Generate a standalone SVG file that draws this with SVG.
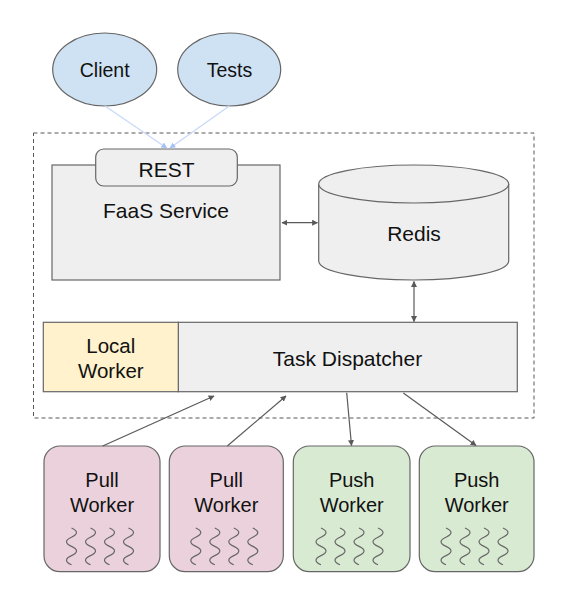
<svg xmlns="http://www.w3.org/2000/svg" width="566" height="592" viewBox="0 0 566 592">
<defs>
<style>
text{font-family:"Liberation Sans",Arial,sans-serif;fill:#111;text-anchor:middle}
.box{stroke:#666;stroke-width:1.2}
.gray{fill:#efefef}
.conn{stroke:#595959;stroke-width:1.2;fill:none}
.blue{stroke:#c9daf8;stroke-width:1.4;fill:none}
.sq{stroke:#666;stroke-width:1.2;fill:none}
.pull{fill:#ead1dc}
.push{fill:#d9ead3}
</style>
<marker id="ah" viewBox="0 0 10 10" refX="9" refY="5" markerWidth="6" markerHeight="6" orient="auto-start-reverse" markerUnits="userSpaceOnUse"><path d="M0,0 L10,5 L0,10 z" fill="#595959"/></marker>
<marker id="ahb" viewBox="0 0 10 10" refX="9" refY="5" markerWidth="6" markerHeight="6" orient="auto" markerUnits="userSpaceOnUse"><path d="M0,0 L10,5 L0,10 z" fill="#a4c2f4"/></marker>
<path id="sq" d="M-2,0 q10,4.6 0,9.2 t0,9.2 t0,9.2 t0,9.2"/>
</defs>
<rect x="0" y="0" width="566" height="592" fill="#fff"/>
<rect id="boundary" x="33.5" y="133" width="500.5" height="285" fill="none" stroke="#595959" stroke-width="1" stroke-dasharray="4,3"/>
<g id="client"><ellipse cx="104.7" cy="69.5" rx="52" ry="36.5" fill="#cfe2f3" class="box"/><text x="104.7" y="77.3" font-size="19.5">Client</text></g>
<g id="tests"><ellipse cx="229.2" cy="69.5" rx="51.5" ry="36.5" fill="#cfe2f3" class="box"/><text x="229.5" y="77.3" font-size="19.5">Tests</text></g>
<g id="faas"><rect x="52" y="165" width="228" height="115" class="box gray"/><text x="166" y="217.7" font-size="21">FaaS Service</text></g>
<g id="rest"><rect x="95.7" y="149" width="141.6" height="37" rx="8" class="box gray"/><text x="166.5" y="176.7" font-size="21">REST</text></g>
<g id="redis"><path d="M318.7,184 L318.7,261 A95,19 0 0 0 508.7,261 L508.7,184" class="box gray"/><ellipse cx="413.7" cy="184" rx="95" ry="19" class="box gray"/><text x="414" y="240.7" font-size="21">Redis</text></g>
<g id="dispatcher"><rect x="178.3" y="322.3" width="339" height="69.4" class="box gray"/><text x="347.5" y="366" font-size="21">Task Dispatcher</text></g>
<g id="local"><rect x="43.3" y="322.3" width="135" height="69.4" fill="#fff2cc" class="box"/><text x="110.8" y="352.7" font-size="20.5">Local</text><text x="110.8" y="378.3" font-size="20.5">Worker</text></g>
<g id="pull1"><rect x="44" y="446" width="116" height="125.7" rx="16" class="box pull"/><text x="102" y="486.7" font-size="20">Pull</text><text x="102" y="511.7" font-size="20">Worker</text>
<use href="#sq" x="73.5" y="528" class="sq"/><use href="#sq" x="92.5" y="528" class="sq"/><use href="#sq" x="111.5" y="528" class="sq"/><use href="#sq" x="130.5" y="528" class="sq"/></g>
<g id="pull2"><rect x="169.3" y="446" width="114" height="125.7" rx="16" class="box pull"/><text x="226.3" y="486.7" font-size="20">Pull</text><text x="226.3" y="511.7" font-size="20">Worker</text>
<use href="#sq" x="197.8" y="528" class="sq"/><use href="#sq" x="216.8" y="528" class="sq"/><use href="#sq" x="235.8" y="528" class="sq"/><use href="#sq" x="254.8" y="528" class="sq"/></g>
<g id="push1"><rect x="293.3" y="446" width="116.7" height="125.7" rx="16" class="box push"/><text x="351.7" y="486.7" font-size="20">Push</text><text x="351.7" y="511.7" font-size="20">Worker</text>
<use href="#sq" x="323" y="528" class="sq"/><use href="#sq" x="342" y="528" class="sq"/><use href="#sq" x="361" y="528" class="sq"/><use href="#sq" x="380" y="528" class="sq"/></g>
<g id="push2"><rect x="419.3" y="446" width="114.7" height="125.7" rx="16" class="box push"/><text x="476.7" y="486.7" font-size="20">Push</text><text x="476.7" y="511.7" font-size="20">Worker</text>
<use href="#sq" x="448" y="528" class="sq"/><use href="#sq" x="467" y="528" class="sq"/><use href="#sq" x="486" y="528" class="sq"/><use href="#sq" x="505" y="528" class="sq"/></g>
<g id="connectors">
<line x1="105" y1="106" x2="166.7" y2="148" class="blue" marker-end="url(#ahb)"/>
<line x1="229.3" y1="106" x2="170" y2="148" class="blue" marker-end="url(#ahb)"/>
<line x1="282" y1="222.7" x2="317.5" y2="222.7" class="conn" marker-start="url(#ah)" marker-end="url(#ah)"/>
<line x1="414" y1="281.5" x2="414" y2="321.5" class="conn" marker-start="url(#ah)" marker-end="url(#ah)"/>
<line x1="102.7" y1="446" x2="214" y2="396" class="conn" marker-end="url(#ah)"/>
<line x1="227.3" y1="446" x2="286" y2="396" class="conn" marker-end="url(#ah)"/>
<line x1="346.7" y1="392.7" x2="351.5" y2="445.5" class="conn" marker-end="url(#ah)"/>
<line x1="403.3" y1="393" x2="476" y2="445.5" class="conn" marker-end="url(#ah)"/>
</g>
</svg>
